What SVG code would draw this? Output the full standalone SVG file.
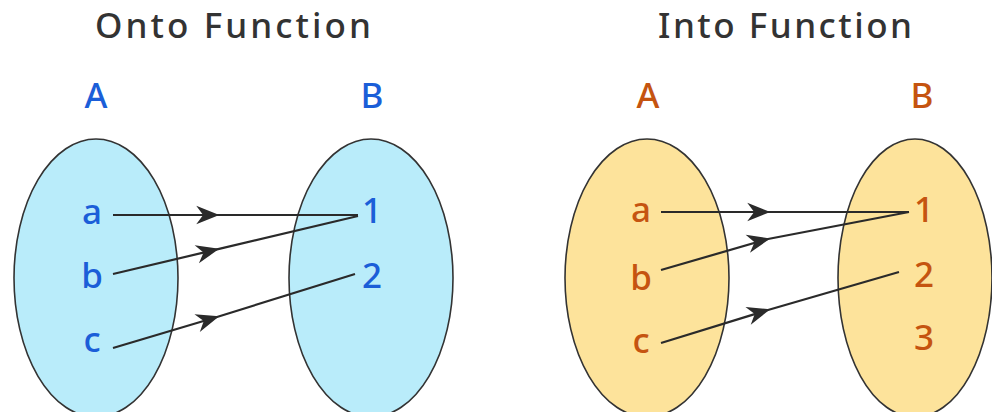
<svg xmlns="http://www.w3.org/2000/svg" width="992" height="412" viewBox="0 0 992 412">
<style>
.title{font-family:"Noto Sans","Liberation Sans",sans-serif;font-size:35px;font-weight:500;fill:#333;text-anchor:middle}
.lbl{font-family:"Noto Sans","Liberation Sans",sans-serif;font-size:35px;font-weight:500;text-anchor:middle}
.blue{fill:#1b5ed8}
.orange{fill:#c55410}
.setb{fill:#b9ecfa;stroke:#333;stroke-width:1.6}
.seto{fill:#fde39b;stroke:#333;stroke-width:1.6}
.conn{fill:none;stroke:#2a2a2a;stroke-width:2.2;marker-mid:url(#arr)}
</style>
<defs>
<marker id="arr" markerUnits="userSpaceOnUse" markerWidth="30" markerHeight="30" viewBox="-22 -10 26 20" refX="0" refY="0" orient="auto">
<path d="M2,0 L-18,-8 L-12,0 L-18,8 Z" fill="#2a2a2a"/>
</marker>
</defs>
<rect width="992" height="412" fill="#fff"/>
<text class="title" x="233" y="38" textLength="276" lengthAdjust="spacing">Onto Function</text>
<text class="title" x="785" y="38" textLength="254" lengthAdjust="spacing">Into Function</text>

<g id="onto-A">
<ellipse class="setb" cx="96" cy="278" rx="82" ry="139"/>
<text class="lbl blue" x="96" y="108">A</text>
<text class="lbl blue" x="92" y="224">a</text>
<text class="lbl blue" x="92" y="288">b</text>
<text class="lbl blue" x="92" y="352">c</text>
</g>
<g id="onto-B">
<ellipse class="setb" cx="371" cy="278" rx="82" ry="139"/>
<text class="lbl blue" x="372" y="108">B</text>
<text class="lbl blue" x="372" y="223">1</text>
<text class="lbl blue" x="372" y="288">2</text>
</g>
<g id="into-A">
<ellipse class="seto" cx="647" cy="278" rx="82" ry="139"/>
<text class="lbl orange" x="648" y="108">A</text>
<text class="lbl orange" x="641" y="222">a</text>
<text class="lbl orange" x="641" y="290">b</text>
<text class="lbl orange" x="641" y="353">c</text>
</g>
<g id="into-B">
<ellipse class="seto" cx="915" cy="278" rx="77" ry="139"/>
<text class="lbl orange" x="922" y="108">B</text>
<text class="lbl orange" x="924" y="222">1</text>
<text class="lbl orange" x="924" y="287">2</text>
<text class="lbl orange" x="924" y="350">3</text>
</g>

<g id="connectors">
<path class="conn" d="M113,215 L217,215 L358,215"/>
<path class="conn" d="M113,274 L217,249.4 L358,216"/>
<path class="conn" d="M113,348 L217,317 L355,274"/>
<path class="conn" d="M661,212 L768,212 L909,212"/>
<path class="conn" d="M661,270 L768,239 L909,212"/>
<path class="conn" d="M661,343 L768,310 L899,272"/>
</g>
</svg>
